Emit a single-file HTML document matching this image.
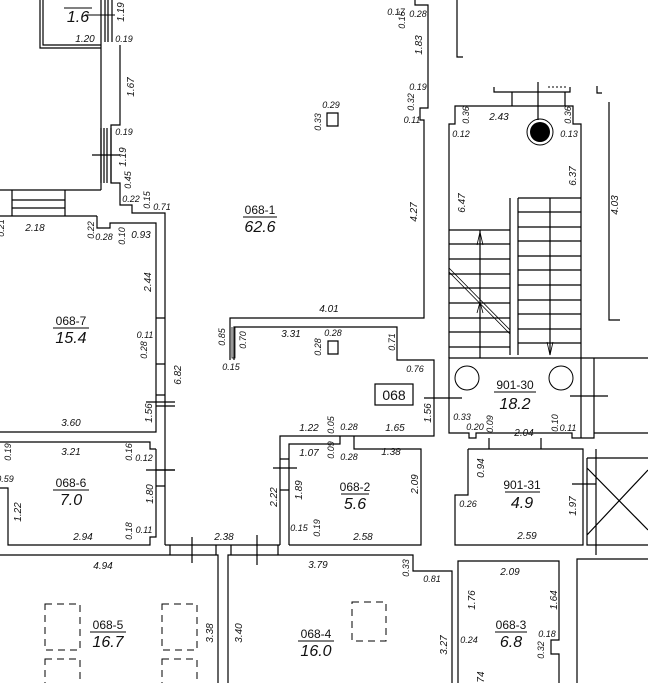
<!DOCTYPE html>
<html><head><meta charset="utf-8"><style>
html,body{margin:0;padding:0;background:#fff;}
svg{display:block;}
text{font-family:"Liberation Sans",sans-serif;fill:#111;}
.d{font-size:10px;font-style:italic;}
.s{font-size:9px;font-style:italic;}
.n{font-size:12px;}
.a{font-size:16px;font-style:italic;}
</style></head><body>
<svg width="648" height="683" viewBox="0 0 648 683" xmlns="http://www.w3.org/2000/svg">
<g fill="none" stroke="#000" stroke-width="1.2">
<path d="M40 0V48H101M43 0V45H101"/>
<path d="M101 0V190M105 0V42M108 0V42M112 0V42M120 45V125H111V183H120V205H132V213H165V545"/>
<path d="M101 128V183M104 128V183M107 128V183M111 128V183"/>
<path d="M92 155H120"/>
<path d="M0 190H101M12 190V216M65 190V216M12 200H65M12 208H65M0 216H97"/>
<path d="M97 216V228H110V223H156V432H0"/>
<path d="M156 318H165M156 395H165M156 406H175M156 449V537H150V545H8V488H0M0 442H150V449H156M156 470H175"/>
<path d="M146 402H175M146 470H175M156 364H165M156 486H165"/>
<path d="M0 555H218V683M228 683V555H413V571H452V683M165 545H280"/>
<path d="M170 545V555M192 537V563M216 545V555M231 545V555M257 535V565M278 545V555"/>
<path d="M230 360V318H424V120H420V108H428V5H415V0"/>
<path d="M234 360V327H397V360H434V436H280V545"/>
<path d="M289 545V444H340V436M354 436V449H421V545H289M273 468H297M280 490H289M280 459H289"/>
<path d="M327 113H338V126H327ZM328 341H338V354H328Z"/>
<path d="M232 327V358H235V327" stroke-width="0.8"/>
<path d="M424 398H462"/>
<!-- stair room -->
<path d="M457 0V57H463M449 358V124H455V106H573V124H581V358M494 87V92H570V87M512 92V106M565 92V106M538 82V120"/>
<path d="M449 358H581V438H572V433H476V438H469V433H449ZM581 358H594V438H581M594 358H648M594 433H648M594 380V438M570 396H608"/>
<path d="M510 198V355M518 198V355M518 198H581M550 198V355"/>
<path d="M518 212H581M518 227H581M518 241H581M518 256H581M518 270H581M518 285H581M518 300H581M518 314H581M518 329H581M518 343H581"/>
<path d="M449 230H510M449 244H510M449 259H510M449 274H510M449 288H510M449 303H510M449 318H510M449 332H510M449 347H510M480 230V358"/>
<path d="M449 268L510 330M449 272L510 334" stroke-width="0.8"/>
<path d="M477 245L480 232L483 245M477 313L480 302L483 313M547 342L550 355L553 342" stroke-width="0.8"/>
<path d="M489 438V449M541 438V449M468 449H583V545H455V495H468V449M572 484H596"/>
<path d="M587 458H648M587 458V545H648M596 449V555M587 468L648 530M587 535L648 470"/>
<path d="M458 683V561H559V640H551V654H559V683M577 683V559H648"/>
<path d="M609 102V320H620M597 86V93H602"/>
</g>
<path d="M548 87H566" stroke="#000" stroke-width="1" stroke-dasharray="2,2"/>
<circle cx="540" cy="132" r="13" fill="none" stroke="#000" stroke-width="1"/>
<circle cx="540" cy="132" r="10" fill="#000"/>
<circle cx="467" cy="378" r="12" fill="none" stroke="#000"/>
<circle cx="561" cy="378" r="12" fill="none" stroke="#000"/>
<g fill="none" stroke="#000" stroke-width="1" stroke-dasharray="7,5">
<rect x="45" y="604" width="35" height="46"/><rect x="162" y="604" width="35" height="46"/>
<rect x="45" y="659" width="35" height="40"/><rect x="162" y="659" width="35" height="40"/>
<rect x="352" y="602" width="34" height="39"/>
</g>
<rect x="375" y="384" width="38" height="21" fill="none" stroke="#000" stroke-width="1.2"/>
<text x="394" y="400" font-size="14" text-anchor="middle">068</text>
<g stroke="#000" stroke-width="1">
<line x1="64" y1="8" x2="92" y2="8"/><line x1="243" y1="217" x2="277" y2="217"/>
<line x1="53" y1="328" x2="89" y2="328"/><line x1="53" y1="490" x2="89" y2="490"/>
<line x1="90" y1="632" x2="126" y2="632"/><line x1="298" y1="641" x2="334" y2="641"/>
<line x1="341" y1="494" x2="369" y2="494"/><line x1="494" y1="392" x2="536" y2="392"/>
<line x1="505" y1="492" x2="540" y2="492"/><line x1="495" y1="632" x2="527" y2="632"/>
<line x1="85" y1="15" x2="115" y2="15"/>
</g>
<g text-anchor="middle">
<text class="a" x="78" y="22">1.6</text>
<text class="n" x="260" y="214">068-1</text><text class="a" x="260" y="232">62.6</text>
<text class="n" x="71" y="325">068-7</text><text class="a" x="71" y="343">15.4</text>
<text class="n" x="71" y="487">068-6</text><text class="a" x="71" y="505">7.0</text>
<text class="n" x="108" y="629">068-5</text><text class="a" x="108" y="647">16.7</text>
<text class="n" x="316" y="638">068-4</text><text class="a" x="316" y="656">16.0</text>
<text class="n" x="355" y="491">068-2</text><text class="a" x="355" y="509">5.6</text>
<text class="n" x="515" y="389">901-30</text><text class="a" x="515" y="409">18.2</text>
<text class="n" x="522" y="489">901-31</text><text class="a" x="522" y="508">4.9</text>
<text class="n" x="511" y="629">068-3</text><text class="a" x="511" y="647">6.8</text>
<g class="d">
<text x="85" y="42">1.20</text><text x="35" y="231">2.18</text><text x="141" y="238">0.93</text>
<text x="71" y="426">3.60</text><text x="71" y="455">3.21</text><text x="83" y="540">2.94</text>
<text x="224" y="540">2.38</text><text x="103" y="569">4.94</text><text x="318" y="568">3.79</text>
<text x="329" y="312">4.01</text><text x="291" y="337">3.31</text>
<text x="309" y="431">1.22</text><text x="395" y="431">1.65</text><text x="309" y="456">1.07</text>
<text x="391" y="455">1.38</text><text x="363" y="540">2.58</text>
<text x="499" y="120">2.43</text><text x="524" y="436">2.04</text><text x="527" y="539">2.59</text>
<text x="510" y="575">2.09</text>
</g>
<g class="s">
<text x="124" y="42">0.19</text><text x="124" y="135">0.19</text><text x="131" y="202">0.22</text>
<text x="162" y="210">0.71</text><text x="104" y="240">0.28</text><text x="145" y="338">0.11</text>
<text x="144" y="461">0.12</text><text x="144" y="533">0.11</text><text x="5" y="482">0.59</text>
<text x="331" y="108">0.29</text><text x="333" y="336">0.28</text><text x="231" y="370">0.15</text>
<text x="415" y="372">0.76</text><text x="349" y="430">0.28</text><text x="349" y="460">0.28</text>
<text x="299" y="531">0.15</text><text x="432" y="582">0.81</text>
<text x="396" y="15">0.17</text><text x="418" y="17">0.28</text><text x="418" y="90">0.19</text>
<text x="412" y="123">0.11</text><text x="461" y="137">0.12</text><text x="569" y="137">0.13</text>
<text x="462" y="420">0.33</text><text x="475" y="430">0.20</text><text x="568" y="431">0.11</text>
<text x="468" y="507">0.26</text><text x="469" y="643">0.24</text><text x="547" y="637">0.18</text>
</g>
</g>
<g class="d" text-anchor="middle">
<text transform="translate(124,12) rotate(-90)">1.19</text>
<text transform="translate(134,87) rotate(-90)">1.67</text>
<text transform="translate(126,157) rotate(-90)">1.19</text>
<text transform="translate(151,282) rotate(-90)">2.44</text>
<text transform="translate(181,375) rotate(-90)">6.82</text>
<text transform="translate(152,413) rotate(-90)">1.56</text>
<text transform="translate(153,494) rotate(-90)">1.80</text>
<text transform="translate(21,512) rotate(-90)">1.22</text>
<text transform="translate(213,633) rotate(-90)">3.38</text>
<text transform="translate(242,633) rotate(-90)">3.40</text>
<text transform="translate(447,645) rotate(-90)">3.27</text>
<text transform="translate(417,212) rotate(-90)">4.27</text>
<text transform="translate(422,45) rotate(-90)">1.83</text>
<text transform="translate(431,413) rotate(-90)">1.56</text>
<text transform="translate(277,497) rotate(-90)">2.22</text>
<text transform="translate(302,490) rotate(-90)">1.89</text>
<text transform="translate(418,484) rotate(-90)">2.09</text>
<text transform="translate(576,176) rotate(-90)">6.37</text>
<text transform="translate(465,203) rotate(-90)">6.47</text>
<text transform="translate(484,468) rotate(-90)">0.94</text>
<text transform="translate(576,506) rotate(-90)">1.97</text>
<text transform="translate(475,600) rotate(-90)">1.76</text>
<text transform="translate(557,600) rotate(-90)">1.64</text>
<text transform="translate(484,677) rotate(-90)">74</text>
<text transform="translate(618,205) rotate(-90)">4.03</text>
</g>
<g class="s" text-anchor="middle">
<text transform="translate(131,180) rotate(-90)">0.45</text>
<text transform="translate(150,200) rotate(-90)">0.15</text>
<text transform="translate(94,230) rotate(-90)">0.22</text>
<text transform="translate(125,236) rotate(-90)">0.10</text>
<text transform="translate(147,350) rotate(-90)">0.28</text>
<text transform="translate(132,452) rotate(-90)">0.16</text>
<text transform="translate(132,531) rotate(-90)">0.18</text>
<text transform="translate(11,452) rotate(-90)">0.19</text>
<text transform="translate(4,228) rotate(-90)">0.21</text>
<text transform="translate(321,122) rotate(-90)">0.33</text>
<text transform="translate(321,347) rotate(-90)">0.28</text>
<text transform="translate(225,337) rotate(-90)">0.85</text>
<text transform="translate(246,340) rotate(-90)">0.70</text>
<text transform="translate(395,342) rotate(-90)">0.71</text>
<text transform="translate(334,425) rotate(-90)">0.05</text>
<text transform="translate(334,450) rotate(-90)">0.09</text>
<text transform="translate(320,528) rotate(-90)">0.19</text>
<text transform="translate(409,568) rotate(-90)">0.33</text>
<text transform="translate(405,20) rotate(-90)">0.16</text>
<text transform="translate(414,102) rotate(-90)">0.32</text>
<text transform="translate(469,115) rotate(-90)">0.36</text>
<text transform="translate(571,115) rotate(-90)">0.36</text>
<text transform="translate(493,424) rotate(-90)">0.09</text>
<text transform="translate(558,423) rotate(-90)">0.10</text>
<text transform="translate(544,650) rotate(-90)">0.32</text>
</g>
</svg>
</body></html>
